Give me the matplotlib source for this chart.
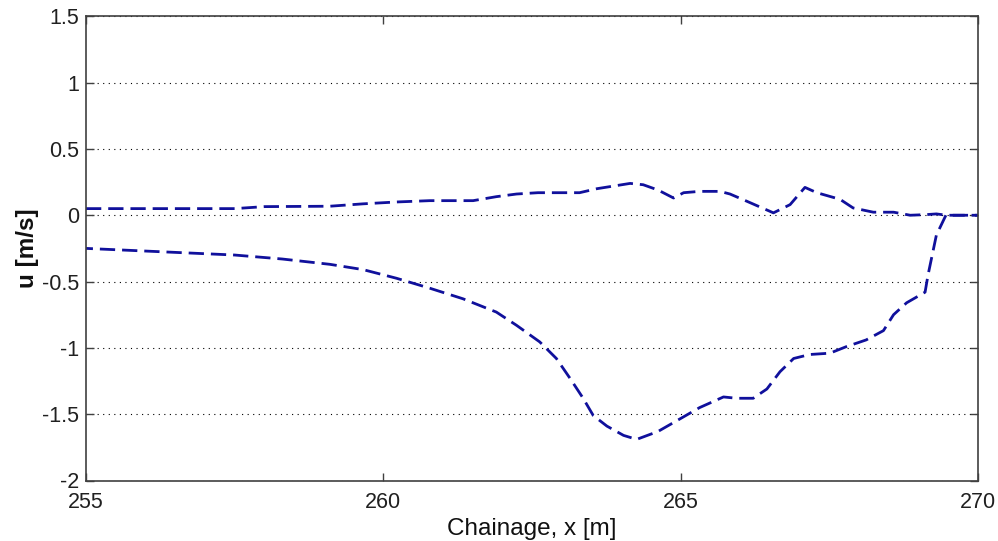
import matplotlib
matplotlib.use("Agg")
import matplotlib.pyplot as plt

# Upper curve (u, near zero)
x_upper = [255.0, 257.5, 258.0, 259.1, 259.66, 260.22, 260.78, 261.51, 261.9, 262.24,
           262.6, 263.3, 263.59, 264.15, 264.37, 264.62, 264.88, 265.05, 265.32, 265.66,
           265.83, 266.11, 266.56, 266.84, 267.09, 267.29, 267.68, 267.9, 268.24, 268.58,
           268.86, 269.14, 269.3, 269.47, 270.0]
u_upper = [0.05, 0.05, 0.065, 0.068, 0.086, 0.10, 0.11, 0.11, 0.14, 0.16,
           0.17, 0.17, 0.20, 0.24, 0.23, 0.19, 0.13, 0.17, 0.18, 0.18,
           0.16, 0.106, 0.018, 0.08, 0.21, 0.17, 0.12, 0.055, 0.023, 0.023,
           0.0, 0.005, 0.01, 0.0, 0.0]

# Lower curve (u, negative)
x_lower = [255.0, 256.0, 257.5, 258.3, 259.1, 259.66, 260.22, 260.78, 261.34, 261.9,
           262.24, 262.63, 262.91, 263.14, 263.36, 263.53, 263.76, 264.04, 264.26, 264.62,
           264.99, 265.32, 265.72, 265.94, 266.22, 266.45, 266.67, 266.9, 267.17, 267.51,
           267.79, 268.12, 268.41, 268.58, 268.8, 269.11, 269.16, 269.3, 269.46, 270.0]
u_lower = [-0.25, -0.27, -0.30, -0.33, -0.37, -0.41, -0.475, -0.55, -0.63, -0.73,
           -0.83, -0.955, -1.08, -1.23, -1.38, -1.51, -1.59, -1.66, -1.69, -1.63,
           -1.535, -1.45, -1.37, -1.38, -1.38, -1.31, -1.18, -1.08, -1.05, -1.04,
           -0.99, -0.94, -0.87, -0.75, -0.66, -0.58, -0.45, -0.15, 0.0, 0.0]

x_ticks = [255, 260, 265, 270]
y_ticks = [-2, -1.5, -1, -0.5, 0, 0.5, 1, 1.5]
y_ticklabels = ["-2", "-1.5", "-1", "-0.5", "0", "0.5", "1", "1.5"]

plt.rcParams['font.family'] = ['Liberation Sans', 'DejaVu Sans']

fig = plt.figure(figsize=(9.98, 5.41), dpi=100)
ax = fig.add_axes([86/998, 1 - 480.5/541, (978 - 86)/998, (480.5 - 16.3)/541])

line_color = '#10109c'
ax.plot(x_upper, u_upper, color=line_color, lw=2.0, linestyle=(0, (5.5, 2.5)))
ax.plot(x_lower, u_lower, color=line_color, lw=2.0, linestyle=(3, (5.5, 2.5)))

ax.set_xlim(255, 270)
ax.set_ylim(-2, 1.5)
ax.set_xticks(x_ticks)
ax.set_xticklabels([str(t) for t in x_ticks])
ax.set_yticks(y_ticks)
ax.set_yticklabels(y_ticklabels)

ax.yaxis.grid(True, linestyle=(0, (1, 4)), color='black', lw=0.8)
ax.set_axisbelow(True)

spine_color = '#404040'
for s in ax.spines.values():
    s.set_color(spine_color)
    s.set_linewidth(1.2)

ax.tick_params(axis='both', direction='in', length=6, width=1.0, color=spine_color,
               top=True, right=True, labelsize=15.5, labelcolor='#202020', pad=5)
ax.tick_params(axis='x', pad=8)

ax.set_xlabel('Chainage, x [m]', fontsize=17.5, color='#101010', labelpad=4)
ax.set_ylabel('u [m/s]', fontsize=17.5, fontweight='bold', color='#101010', labelpad=2)

fig.savefig('out.png', dpi=100)
